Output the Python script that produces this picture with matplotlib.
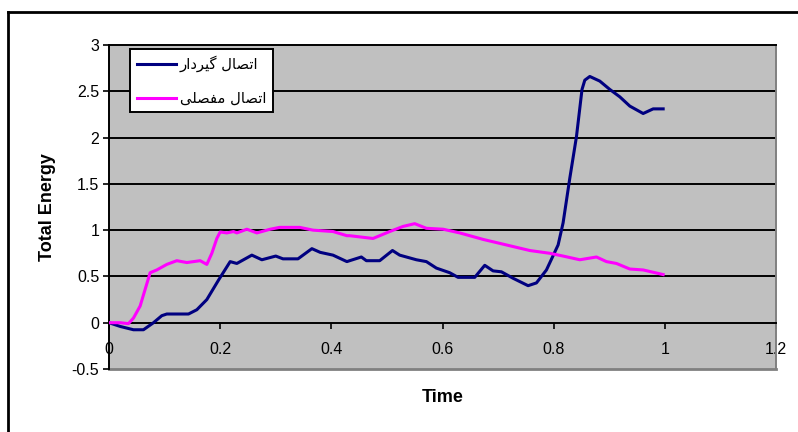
import matplotlib.pyplot as plt
from matplotlib.lines import Line2D

plt.rcParams['font.family'] = ['Liberation Sans', 'DejaVu Sans']

# Rigid (moment) connection
t_rigid = [0.0, 0.02, 0.044, 0.062, 0.08, 0.095, 0.104, 0.143, 0.158, 0.176, 0.197,
           0.218, 0.23, 0.257, 0.275, 0.30, 0.313, 0.34, 0.365, 0.38, 0.403, 0.428,
           0.433, 0.454, 0.463, 0.487, 0.51, 0.523, 0.553, 0.571, 0.589, 0.613,
           0.628, 0.658, 0.676, 0.691, 0.706, 0.727, 0.754, 0.769, 0.787, 0.808,
           0.817, 0.826, 0.829, 0.841, 0.851, 0.856, 0.865, 0.883, 0.901, 0.919,
           0.937, 0.961, 0.979, 0.997]
e_rigid = [0.0, -0.04, -0.076, -0.076, 0.0, 0.076, 0.094, 0.094, 0.14, 0.25, 0.46,
           0.66, 0.64, 0.73, 0.68, 0.72, 0.69, 0.69, 0.80, 0.76, 0.73, 0.66,
           0.67, 0.71, 0.67, 0.67, 0.78, 0.73, 0.68, 0.66, 0.59, 0.54,
           0.49, 0.49, 0.62, 0.56, 0.55, 0.48, 0.40, 0.43, 0.57, 0.84,
           1.08, 1.44, 1.56, 2.01, 2.52, 2.62, 2.66, 2.61, 2.52, 2.44,
           2.34, 2.26, 2.31, 2.31]

# Hinged (pinned) connection
t_hinge = [0.0, 0.02, 0.035, 0.044, 0.056, 0.065, 0.074, 0.086, 0.104, 0.122, 0.14,
           0.164, 0.176, 0.185, 0.194, 0.20, 0.212, 0.224, 0.23, 0.248, 0.266,
           0.29, 0.307, 0.343, 0.367, 0.403, 0.428, 0.433, 0.475, 0.505, 0.529,
           0.55, 0.571, 0.601, 0.631, 0.673, 0.715, 0.757, 0.793, 0.817, 0.847,
           0.877, 0.895, 0.913, 0.937, 0.961, 0.997]
e_hinge = [0.0, 0.0, -0.01, 0.05, 0.18, 0.36, 0.54, 0.57, 0.63, 0.67, 0.65,
           0.67, 0.63, 0.75, 0.91, 0.98, 0.97, 0.985, 0.97, 1.01, 0.97,
           1.01, 1.03, 1.03, 1.0, 0.985, 0.94, 0.94, 0.91, 0.985, 1.04,
           1.07, 1.02, 1.01, 0.97, 0.90, 0.84, 0.78, 0.75, 0.72, 0.68,
           0.71, 0.66, 0.64, 0.58, 0.57, 0.52]

labels = ['اتصال گیردار', 'اتصال مفصلی']
x_ticks = [0, 0.2, 0.4, 0.6, 0.8, 1, 1.2]
x_ticklabels = ['0', '0.2', '0.4', '0.6', '0.8', '1', '1.2']
y_ticks = [-0.5, 0, 0.5, 1, 1.5, 2, 2.5, 3]
y_ticklabels = ['-0.5', '0', '0.5', '1', '1.5', '2', '2.5', '3']

# presentation forms: isolated, final, initial, medial
FORMS = {
    'ا': (0xFE8D, 0xFE8E, None, None),
    'ت': (0xFE95, 0xFE96, 0xFE97, 0xFE98),
    'ص': (0xFEB9, 0xFEBA, 0xFEBB, 0xFEBC),
    'ل': (0xFEDD, 0xFEDE, 0xFEDF, 0xFEE0),
    'گ': (0xFB92, 0xFB93, 0xFB94, 0xFB95),
    'ی': (0xFBFC, 0xFBFD, 0xFBFE, 0xFBFF),
    'ر': (0xFEAD, 0xFEAE, None, None),
    'د': (0xFEA9, 0xFEAA, None, None),
    'م': (0xFEE1, 0xFEE2, 0xFEE3, 0xFEE4),
    'ف': (0xFED1, 0xFED2, 0xFED3, 0xFED4),
}


def shape(text):
    out = []
    for i, ch in enumerate(text):
        if ch not in FORMS:
            out.append(ch)
            continue
        prev = text[i - 1] if i > 0 else ' '
        nxt = text[i + 1] if i < len(text) - 1 else ' '
        join_prev = prev in FORMS and FORMS[prev][2] is not None
        join_next = FORMS[ch][2] is not None and nxt in FORMS
        iso, fin, ini, med = FORMS[ch]
        if join_prev and join_next:
            code = med
        elif join_prev:
            code = fin
        elif join_next:
            code = ini
        else:
            code = iso
        out.append(chr(code))
    return ''.join(reversed(out))


W, H = 798, 432
fig = plt.figure(figsize=(W / 100, H / 100), dpi=100)
ax = fig.add_axes([109 / W, 1 - 369 / H, (776 - 109) / W, (369 - 45) / H])
ax.set_facecolor('#C0C0C0')

ax.set_xlim(0, 1.2)
ax.set_ylim(-0.5, 3)

for y in [0.5, 1, 1.5, 2, 2.5]:
    ax.axhline(y, color='black', lw=1.4, zorder=1)

l1, = ax.plot(t_rigid, e_rigid, color='#000080', lw=2.2, zorder=3)
l2, = ax.plot(t_hinge, e_hinge, color='#FF00FF', lw=2.2, zorder=3)

ax.spines['bottom'].set_position(('data', 0))
ax.spines['bottom'].set_color('black')
ax.spines['bottom'].set_linewidth(1.4)
ax.spines['left'].set_color('black')
ax.spines['left'].set_linewidth(1.4)
ax.spines['top'].set_color('black')
ax.spines['top'].set_linewidth(1.4)
ax.spines['right'].set_color('#808080')
ax.spines['right'].set_linewidth(1.4)
ax.axhline(-0.5, color='#808080', lw=2.0, clip_on=False, zorder=0)

ax.set_xticks(x_ticks)
ax.set_xticklabels(x_ticklabels)
ax.set_yticks(y_ticks)
ax.set_yticklabels(y_ticklabels)
ax.tick_params(axis='x', direction='out', length=4, width=1.2, pad=10, labelsize=11.5)
ax.tick_params(axis='y', direction='out', length=4, width=1.2, pad=3, labelsize=11.5)

ax.set_ylabel('Total Energy', fontsize=13, fontweight='bold', labelpad=11)
fig.text((109 + 776) / 2 / W, 1 - 397 / H, 'Time', fontsize=13, fontweight='bold',
         ha='center', va='center')

leg = ax.legend([l1, l2], [shape(s) for s in labels],
                loc='upper left', bbox_to_anchor=(130 / W, 1 - 49 / H),
                bbox_transform=fig.transFigure, borderaxespad=0,
                prop={'family': ['DejaVu Sans'], 'size': 10.6},
                frameon=True, fancybox=False, framealpha=1,
                edgecolor='black', handlelength=2.7, labelspacing=1.25,
                borderpad=0.45, handletextpad=0.25)
leg.get_frame().set_linewidth(1.4)

# outer chart frame
fig.add_artist(Line2D([7.5 / W, 1], [1 - 12 / H, 1 - 12 / H], color='black', lw=2,
                      transform=fig.transFigure))
fig.add_artist(Line2D([7.5 / W, 7.5 / W], [0, 1 - 12 / H], color='black', lw=2,
                      transform=fig.transFigure))

fig.savefig('out.png', dpi=100)
